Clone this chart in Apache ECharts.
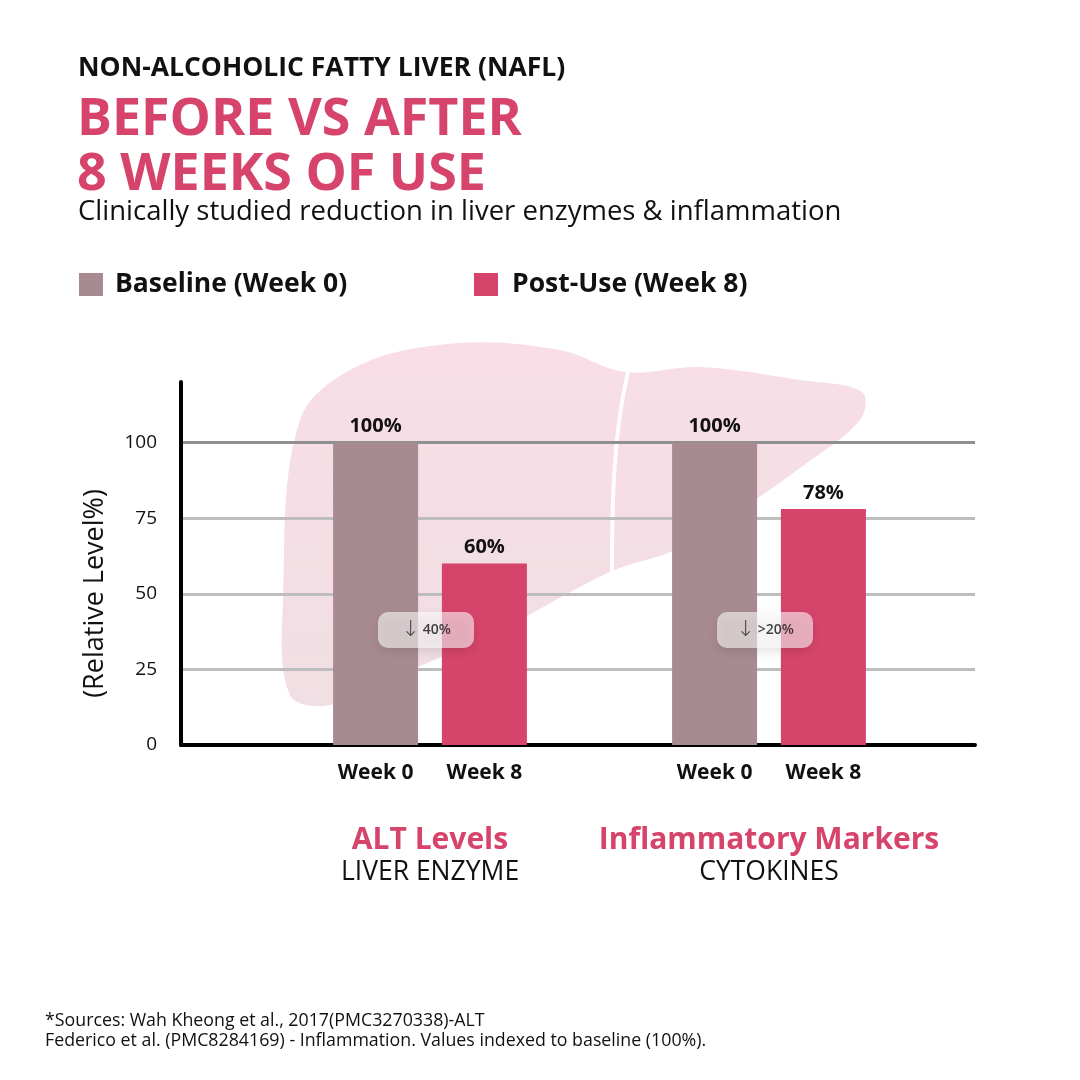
<!DOCTYPE html>
<html><head><meta charset="utf-8">
<script src="https://cdn.jsdelivr.net/npm/echarts@6/dist/echarts.min.js"></script>
<style>html,body{margin:0;padding:0;background:#fff}#c{width:1080px;height:1080px}</style>
</head><body><div id="c"></div>
<script>
const groups = ['ALT Levels', 'Inflammatory Markers'];
const groupSubs = ['LIVER ENZYME', 'CYTOKINES'];
const seriesNames = ['Baseline (Week 0)', 'Post-Use (Week 8)'];
const weekLabels = ['Week 0', 'Week 8'];
const baseline = [100, 100];
const postUse = [60, 78];
const reductionText = ['40%', '>20%'];
const badgeLevel = [38, 38];
const yTicks = [0, 25, 50, 75, 100];

const FONT = '"Open Sans", sans-serif';
const PINK = '#d6446b';
const MAUVE = '#a88b90';

const chart = echarts.init(document.getElementById('c'), null, {renderer: 'canvas'});

const barCommon = {barWidth: 85, barGap: '28%'};

const option = {
  backgroundColor: '#fff',
  textStyle: {fontFamily: FONT},
  animation: false,
  graphic: [
    {type: 'polygon', z: -10, silent: true,
     shape: {smooth: 0.35, points: [[300,420],[360,365],[460,343],[560,350],[625,372],[700,367],[800,380],[862,392],[860,420],[800,468],[740,510],[680,548],[610,572],[500,630],[400,675],[330,705],[290,695],[283,600]]},
     style: {fill: {type: 'linear', x: 0, y: 0, x2: 0, y2: 1, colorStops: [
       {offset: 0, color: 'rgba(240,175,195,0.42)'},
       {offset: 1, color: 'rgba(215,170,182,0.38)'}]}}},
    {type: 'bezierCurve', z: -9, silent: true,
     shape: {x1: 628, y1: 372, cpx1: 612, cpy1: 440, cpx2: 612, cpy2: 520, x2: 612, y2: 572},
     style: {stroke: 'rgba(255,255,255,0.9)', lineWidth: 4}},
    {type: 'text', left: 78, top: 55, style: {text: 'NON-ALCOHOLIC FATTY LIVER (NAFL)', font: '700 26.5px ' + FONT, fill: '#111'}},
    {type: 'text', left: 77, top: 94, style: {text: 'BEFORE VS AFTER', font: '700 52px ' + FONT, fill: PINK}},
    {type: 'text', left: 77, top: 149, style: {text: '8 WEEKS OF USE', font: '700 52px ' + FONT, fill: PINK}},
    {type: 'text', left: 78, top: 198, style: {text: 'Clinically studied reduction in liver enzymes & inflammation', font: '500 27.5px ' + FONT, fill: '#111'}},
    {type: 'text', left: 45, top: 1012, style: {text: '*Sources: Wah Kheong et al., 2017(PMC3270338)-ALT', font: '400 17.8px ' + FONT, fill: '#111'}},
    {type: 'text', left: 45, top: 1032, style: {text: 'Federico et al. (PMC8284169) - Inflammation. Values indexed to baseline (100%).', font: '400 17.8px ' + FONT, fill: '#111'}}
  ],
  legend: [
    {left: 79, top: 271, padding: 0, itemWidth: 24, itemHeight: 23, icon: 'rect', data: [seriesNames[0]],
     textStyle: {fontSize: 26.5, fontWeight: 700, color: '#111', fontFamily: FONT, padding: [0, 0, 0, 7]}},
    {left: 474, top: 271, padding: 0, itemWidth: 24, itemHeight: 23, icon: 'rect', data: [seriesNames[1]],
     textStyle: {fontSize: 26.5, fontWeight: 700, color: '#111', fontFamily: FONT, padding: [0, 0, 0, 9]}}
  ],
  grid: [
    {left: 181, right: 105, top: 382, bottom: 335},
    {left: 260.5, right: 141.5, top: 382, bottom: 335}
  ],
  xAxis: [
    {gridIndex: 0, type: 'value', min: 0, max: 1,
     axisLine: {show: true, lineStyle: {color: '#000', width: 4}},
     axisTick: {show: false}, axisLabel: {show: false}, splitLine: {show: false}},
    {gridIndex: 1, type: 'category', data: groups,
     axisLine: {show: false}, axisTick: {show: false},
     axisLabel: {margin: 79, interval: 0, lineHeight: 32,
       formatter: (v, i) => '{a|' + v + '}\n{b|' + groupSubs[i] + '}',
       rich: {a: {fontSize: 30, fontWeight: 700, color: PINK, fontFamily: FONT, lineHeight: 32},
              b: {fontSize: 26.5, fontWeight: 400, color: '#111', fontFamily: FONT, lineHeight: 32}}}},
    {gridIndex: 1, type: 'category', data: groups, show: false}
  ],
  yAxis: [
    {gridIndex: 0, type: 'value', min: 0, max: 120, interval: 25,
     name: '(Relative Level%)', nameLocation: 'middle', nameGap: 72,
     nameTextStyle: {fontSize: 27, fontWeight: 500, color: '#111', fontFamily: FONT, padding: [0, 60, 0, 0]},
     axisLine: {show: true, lineStyle: {color: '#000', width: 4}},
     axisTick: {show: false},
     axisLabel: {margin: 24, fontSize: 19, color: '#111', fontFamily: FONT,
       formatter: v => (yTicks.indexOf(v) >= 0 ? String(v) : '')},
     splitLine: {show: true, showMaxLine: false, showMinLine: false,
       lineStyle: {width: 3, color: ['#bdbdbd', '#bdbdbd', '#bdbdbd', '#8f8f8f']}}},
    {gridIndex: 1, type: 'value', min: 0, max: 120, show: false}
  ],
  series: [
    Object.assign({name: seriesNames[0], type: 'bar', xAxisIndex: 1, yAxisIndex: 1, data: baseline,
      itemStyle: {color: MAUVE}, z: 3,
      label: {show: true, position: 'top', distance: 6, fontSize: 20, fontWeight: 700, color: '#111', fontFamily: FONT,
        formatter: p => p.value + '%'}}, barCommon),
    Object.assign({name: seriesNames[1], type: 'bar', xAxisIndex: 1, yAxisIndex: 1, data: postUse,
      itemStyle: {color: PINK}, z: 3,
      label: {show: true, position: 'top', distance: 6, fontSize: 20, fontWeight: 700, color: '#111', fontFamily: FONT,
        formatter: p => p.value + '%'}}, barCommon),
    Object.assign({name: 'w0', type: 'bar', xAxisIndex: 2, yAxisIndex: 1, data: [0, 0],
      itemStyle: {color: 'rgba(0,0,0,0)'}, silent: true,
      label: {show: true, position: 'bottom', distance: 18, fontSize: 21, fontWeight: 700, color: '#111', fontFamily: FONT,
        formatter: () => weekLabels[0]}}, barCommon),
    Object.assign({name: 'w8', type: 'bar', xAxisIndex: 2, yAxisIndex: 1, data: [0, 0],
      itemStyle: {color: 'rgba(0,0,0,0)'}, silent: true,
      label: {show: true, position: 'bottom', distance: 18, fontSize: 21, fontWeight: 700, color: '#111', fontFamily: FONT,
        formatter: () => weekLabels[1]}}, barCommon),
    {name: 'badge', type: 'scatter', xAxisIndex: 1, yAxisIndex: 1, data: badgeLevel, symbolSize: 1,
     itemStyle: {color: 'rgba(0,0,0,0)'}, z: 10, silent: true,
     label: {show: true, position: 'inside', offset: [-4, 0],
       formatter: p => '{arr|↓} {t|' + reductionText[p.dataIndex] + '}',
       backgroundColor: 'rgba(255,255,255,0.72)', borderRadius: 10, padding: [7, 20, 7, 20],
       width: 56, align: 'center',
       shadowBlur: 10, shadowColor: 'rgba(0,0,0,0.18)', shadowOffsetY: 4,
       rich: {arr: {fontSize: 22, color: '#222', fontFamily: 'DejaVu Sans', fontWeight: 300},
              t: {fontSize: 14, color: '#111', fontWeight: 600, fontFamily: FONT}}}}
  ]
};
chart.setOption(option);
</script></body></html>
